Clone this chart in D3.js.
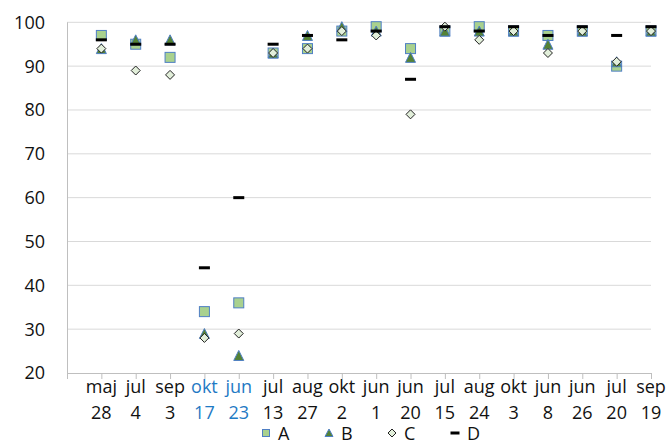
<!DOCTYPE html>
<html>
<head>
<meta charset="utf-8">
<script src="https://cdn.jsdelivr.net/npm/d3@7"></script>
<style>
  body { margin: 0; background: #fff; }
  text { font-family: "Open Sans", "Noto Sans", sans-serif; }
</style>
</head>
<body>
<svg id="chart" width="670" height="440"></svg>
<script>
const months = ['maj', 'jul', 'sep', 'okt', 'jun', 'jul', 'aug', 'okt', 'jun', 'jun', 'jul', 'aug', 'okt', 'jun', 'jun', 'jul', 'sep'];
const days = ['28', '4', '3', '17', '23', '13', '27', '2', '1', '20', '15', '24', '3', '8', '26', '20', '19'];
const highlighted = [3, 4];

const seriesA = [97, 95, 92, 34, 36, 93, 94, 98, 99, 94, 98, 99, 98, 97, 98, 90, 98];
const seriesB = [94, 96, 96, 29, 24, 93, 97, 99, 98, 92, 98, 98, 98, 95, 98, 91, 98];
const seriesC = [94, 89, 88, 28, 29, 93, 94, 98, 97, 79, 99, 96, 98, 93, 98, 91, 98];
const seriesD = [96, 95, 95, 44, 60, 95, 97, 96, 98, 87, 99, 98, 99, 97, 99, 97, 99];

const yTicks = [20, 30, 40, 50, 60, 70, 80, 90, 100];

const svg = d3.select('#chart');
const plotLeft = 67, plotRight = 651, plotTop = 22.3, plotBottom = 373;

// one empty slot on the left, points sit on the tick marks
const x = d3.scaleLinear().domain([-1, months.length - 1]).range([plotLeft, plotRight]);
const y = d3.scaleLinear().domain([20, 100]).range([plotBottom, plotTop]);

// gridlines
svg.append('g')
  .selectAll('line')
  .data(yTicks.slice(1))
  .join('line')
  .attr('x1', plotLeft).attr('x2', plotRight)
  .attr('y1', d => y(d)).attr('y2', d => y(d))
  .attr('stroke', '#d9d9d9')
  .attr('stroke-width', 1);

// y labels
svg.append('g')
  .selectAll('text')
  .data(yTicks)
  .join('text')
  .attr('x', 45)
  .attr('y', d => y(d))
  .attr('dy', '0.36em')
  .attr('text-anchor', 'end')
  .attr('font-size', 18)
  .attr('fill', '#111')
  .text(d => d);

// x axis with ticks
const xAxis = svg.append('g')
  .attr('transform', 'translate(0,' + plotBottom + ')')
  .call(d3.axisBottom(x).tickValues(d3.range(-1, months.length)).tickSize(6).tickFormat(''));
xAxis.select('.domain').attr('stroke', '#bfbfbf').attr('d', 'M' + plotLeft + ',0.5H' + plotRight);
xAxis.selectAll('.tick line').attr('stroke', '#bfbfbf');

// left axis line
svg.append('line')
  .attr('x1', plotLeft + 0.5).attr('x2', plotLeft + 0.5)
  .attr('y1', plotTop).attr('y2', plotBottom + 6)
  .attr('stroke', '#bfbfbf');

// two-line category labels
const labels = svg.append('g')
  .selectAll('text')
  .data(months)
  .join('text')
  .attr('x', (d, i) => x(i))
  .attr('text-anchor', 'middle')
  .attr('font-size', 18)
  .attr('fill', (d, i) => highlighted.includes(i) ? '#1f7ac4' : '#111');
labels.append('tspan').attr('x', (d, i) => x(i)).attr('y', 393).text(d => d);
labels.append('tspan').attr('x', (d, i) => x(i)).attr('y', 419).text((d, i) => days[i]);

// markers
const plot = svg.append('g');

function squares(g, vals, s) {
  g.selectAll(null).data(vals).join('rect')
    .attr('x', (d, i) => x(i) - s / 2).attr('y', d => y(d) - s / 2)
    .attr('width', s).attr('height', s)
    .attr('fill', '#a9d18e').attr('stroke', '#4f7fc4').attr('stroke-width', 1);
}
function triangles(g, vals, s) {
  g.selectAll(null).data(vals.map((v, i) => [i, v]).filter(d => d[1] != null)).join('path')
    .attr('d', d => {
      const cx = x(d[0]), cy = y(d[1]);
      return 'M' + cx + ',' + (cy - s / 2) + 'L' + (cx + s / 2) + ',' + (cy + s / 2) + 'L' + (cx - s / 2) + ',' + (cy + s / 2) + 'Z';
    })
    .attr('fill', '#548235').attr('stroke', '#4f7fc4').attr('stroke-width', 1);
}
function diamonds(g, vals, s) {
  g.selectAll(null).data(vals).join('path')
    .attr('d', (d, i) => {
      const cx = x(i), cy = y(d);
      return 'M' + cx + ',' + (cy - s / 2) + 'L' + (cx + s / 2) + ',' + cy + 'L' + cx + ',' + (cy + s / 2) + 'L' + (cx - s / 2) + ',' + cy + 'Z';
    })
    .attr('fill', '#e2efda').attr('stroke', '#222').attr('stroke-width', 1);
}
function dashes(g, vals, w) {
  g.selectAll(null).data(vals).join('rect')
    .attr('x', (d, i) => x(i) - w / 2).attr('y', d => y(d) - 1.5)
    .attr('width', w).attr('height', 3)
    .attr('fill', '#000');
}

squares(plot.append('g'), seriesA, 10);
triangles(plot.append('g'), seriesB, 10);
diamonds(plot.append('g'), seriesC, 9);
dashes(plot.append('g'), seriesD, 11);

// legend
const legendNames = ['A', 'B', 'C', 'D'];
const legendX = [266, 329, 392, 455];
const ly = 433;
const legend = svg.append('g');
legend.append('rect').attr('x', legendX[0] - 3.5).attr('y', ly - 3.5).attr('width', 7).attr('height', 7)
  .attr('fill', '#a9d18e').attr('stroke', '#4f7fc4');
legend.append('path').attr('d', 'M' + legendX[1] + ',' + (ly - 4) + 'l4,7.5h-8z')
  .attr('fill', '#548235').attr('stroke', '#4f7fc4');
legend.append('path').attr('d', 'M' + legendX[2] + ',' + (ly - 4) + 'l4,4l-4,4l-4,-4z')
  .attr('fill', '#e2efda').attr('stroke', '#222');
legend.append('rect').attr('x', legendX[3] - 4.5).attr('y', ly - 1.5).attr('width', 9).attr('height', 3)
  .attr('fill', '#000');
legend.selectAll('text').data(legendNames).join('text')
  .attr('x', (d, i) => legendX[i] + 12)
  .attr('y', 440)
  .attr('font-size', 18)
  .attr('fill', '#111')
  .text(d => d);
</script>
</body>
</html>
